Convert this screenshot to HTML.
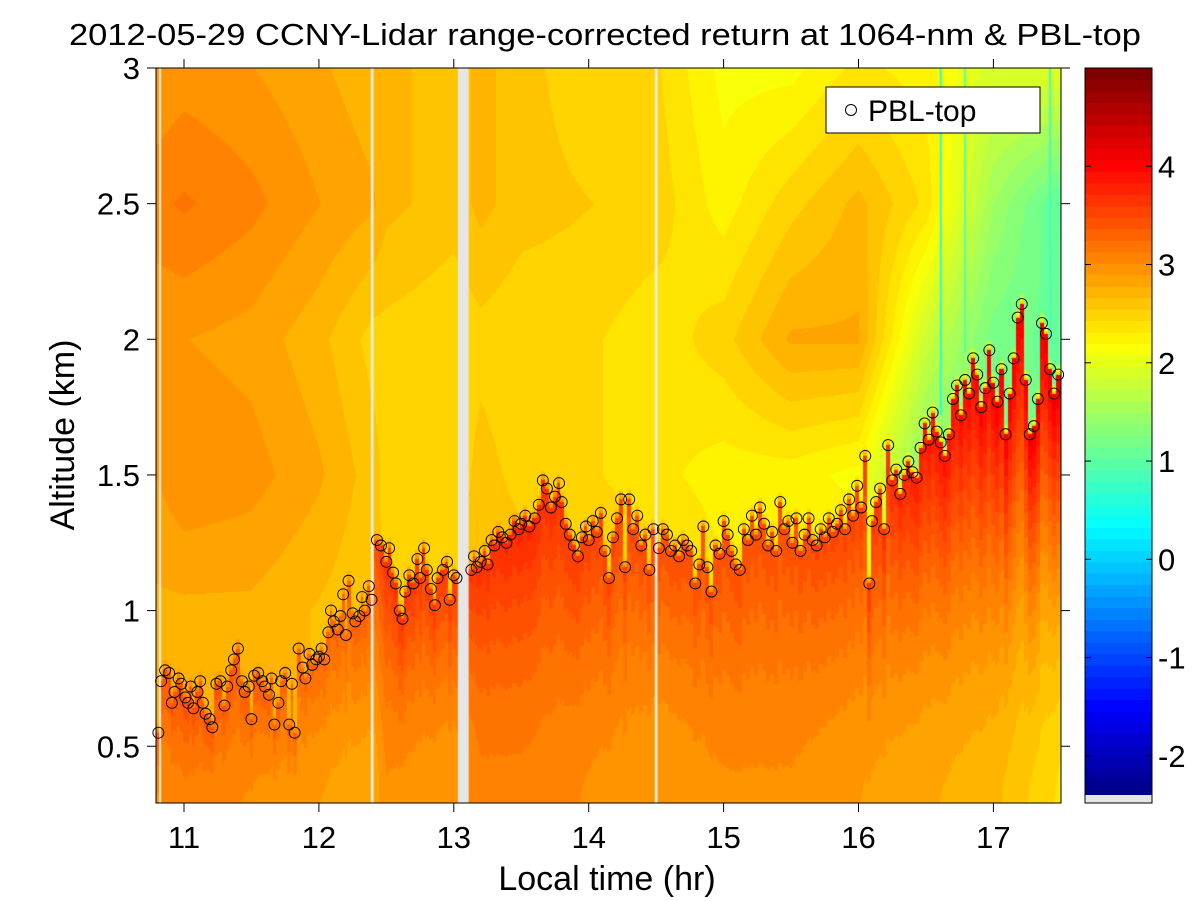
<!DOCTYPE html>
<html><head><meta charset="utf-8"><style>
html,body{margin:0;padding:0;background:#fff;}
#wrap{position:relative;width:1200px;height:901px;overflow:hidden;font-family:"Liberation Sans",Arial,sans-serif;}
#heat{position:absolute;left:156px;top:68px;}
#svg{position:absolute;left:0;top:0;}
</style></head><body>
<div id="wrap">
<canvas id="heat" width="905" height="735"></canvas>
<svg id="svg" width="1200" height="901"></svg>
</div>
<script>
// ---- data ----
const colTimes = [10.8,11,11.5,12,12.4,12.5,13,13.2,13.5,14,14.5,15,15.5,16,16.5,17,17.5];
const botVal   = [3.0,3.1,3.0,2.9,2.8,3.0,2.9,3.1,3.1,3.0,2.9,3.0,3.0,2.9,2.8,2.7,2.4];
const topVal   = [3.4,3.5,3.4,3.3,3.4,3.7,3.6,3.7,3.8,3.6,3.5,3.5,3.5,3.6,3.9,4.1,4.2];
const aboveAlts = [1.0,1.5,2.0,2.5,3.0];
const above10 = [2.75,2.75,2.75,2.65,2.55,2.55,2.55,2.65,2.65,2.55,2.55,2.35,2.45,2.35,2.0,1.8,1.7];
const above15 = [2.9,3.0,2.95,2.8,2.6,2.5,2.45,2.6,2.5,2.45,2.35,2.25,2.25,2.15,1.3,1.1,1.2];
const above20 = [2.9,2.9,2.85,2.7,2.5,2.5,2.45,2.5,2.45,2.45,2.35,2.5,2.8,2.8,1.8,1.2,1.1];
const above25 = [3.1,3.15,3.05,2.9,2.8,2.7,2.6,2.7,2.6,2.55,2.5,2.25,2.5,2.7,2.4,1.5,1.0];
const above30 = [2.9,2.95,2.9,2.8,2.7,2.7,2.6,2.7,2.6,2.45,2.45,2.15,2.15,2.35,2.25,1.9,2.0];
const gapStart = [10.815,12.385,13.03,14.49];
const gapEnd   = [10.83,12.405,13.11,14.51];
const streakTimes = [16.61,16.79,17.42];
const streakVals  = [0.6,1.0,0.9];
const pblT = [10.81,10.83,10.86,10.89,10.91,10.93,10.96,10.98,11.01,11.03,11.05,11.07,11.1,11.12,11.14,11.16,11.19,11.21,11.24,11.27,11.3,11.32,11.35,11.37,11.4,11.43,11.45,11.48,11.5,11.52,11.55,11.58,11.6,11.63,11.65,11.67,11.7,11.72,11.75,11.78,11.8,11.82,11.85,11.88,11.9,11.93,11.95,11.98,12.0,12.02,12.04,12.07,12.09,12.11,12.14,12.16,12.18,12.2,12.22,12.25,12.27,12.3,12.32,12.34,12.37,12.39,12.43,12.46,12.5,12.52,12.55,12.57,12.6,12.62,12.64,12.67,12.7,12.73,12.75,12.78,12.8,12.83,12.86,12.88,12.92,12.95,12.97,13.0,13.02,13.13,13.15,13.17,13.2,13.23,13.25,13.28,13.3,13.33,13.36,13.39,13.42,13.45,13.48,13.5,13.53,13.56,13.6,13.63,13.66,13.69,13.72,13.75,13.78,13.8,13.83,13.86,13.89,13.92,13.95,13.98,14.0,14.03,14.06,14.09,14.12,14.15,14.18,14.21,14.24,14.27,14.3,14.33,14.36,14.39,14.42,14.45,14.48,14.52,14.55,14.58,14.61,14.64,14.67,14.7,14.73,14.76,14.79,14.82,14.85,14.88,14.91,14.94,14.97,15.0,15.03,15.06,15.09,15.12,15.15,15.18,15.21,15.24,15.27,15.3,15.33,15.36,15.39,15.42,15.45,15.48,15.51,15.54,15.57,15.6,15.63,15.66,15.69,15.72,15.75,15.78,15.81,15.84,15.87,15.9,15.93,15.96,15.99,16.02,16.05,16.08,16.1,16.13,16.16,16.19,16.22,16.25,16.28,16.31,16.34,16.37,16.4,16.43,16.46,16.49,16.52,16.55,16.58,16.61,16.64,16.67,16.7,16.73,16.76,16.79,16.82,16.85,16.88,16.91,16.94,16.97,17.0,17.03,17.06,17.09,17.12,17.15,17.18,17.21,17.24,17.27,17.3,17.33,17.36,17.39,17.42,17.45,17.48];
const pblA = [0.55,0.74,0.78,0.77,0.66,0.70,0.75,0.73,0.68,0.66,0.72,0.64,0.70,0.74,0.66,0.62,0.60,0.57,0.73,0.74,0.65,0.72,0.78,0.82,0.86,0.74,0.70,0.72,0.60,0.76,0.77,0.74,0.72,0.69,0.75,0.58,0.66,0.74,0.77,0.58,0.73,0.55,0.86,0.79,0.75,0.84,0.80,0.82,0.83,0.86,0.82,0.92,1.0,0.96,0.93,0.98,1.06,0.91,1.11,0.99,0.96,0.98,1.05,1.0,1.09,1.04,1.26,1.24,1.18,1.23,1.14,1.10,1.0,0.97,1.07,1.13,1.10,1.19,1.12,1.23,1.15,1.08,1.02,1.12,1.15,1.18,1.04,1.13,1.12,1.15,1.20,1.16,1.18,1.22,1.17,1.26,1.24,1.29,1.27,1.25,1.28,1.33,1.30,1.32,1.35,1.31,1.34,1.39,1.48,1.45,1.38,1.42,1.47,1.40,1.32,1.28,1.24,1.20,1.27,1.31,1.26,1.33,1.29,1.36,1.22,1.12,1.27,1.34,1.41,1.16,1.41,1.30,1.35,1.24,1.28,1.15,1.30,1.23,1.30,1.28,1.22,1.24,1.20,1.26,1.24,1.22,1.10,1.17,1.31,1.16,1.07,1.24,1.21,1.33,1.28,1.22,1.17,1.15,1.30,1.26,1.35,1.28,1.38,1.32,1.24,1.29,1.22,1.40,1.30,1.33,1.25,1.34,1.22,1.28,1.34,1.26,1.24,1.30,1.27,1.34,1.29,1.32,1.37,1.30,1.41,1.35,1.46,1.38,1.57,1.10,1.33,1.40,1.45,1.30,1.61,1.48,1.52,1.43,1.50,1.55,1.51,1.49,1.60,1.69,1.63,1.73,1.66,1.62,1.57,1.65,1.78,1.83,1.72,1.85,1.80,1.93,1.87,1.75,1.82,1.96,1.84,1.77,1.89,1.65,1.80,1.93,2.08,2.13,1.85,1.65,1.68,1.78,2.06,2.02,1.89,1.80,1.87];
const xTicks = [11,12,13,14,15,16,17];
const yTicks = [0.5,1,1.5,2,2.5,3];
const yTickLabels = ['0.5','1','1.5','2','2.5','3'];
const cTicks = [-2,-1,0,1,2,3,4];

// ---- scales ----
const PX0=156, PX1=1061, PY0=68, PY1=803;
const xS = t => 184 + (t-11)*134.9;
const yS = a => 68 + (3-a)*271.3;
const tFromX = x => 11 + (x-184)/134.9;
const aFromY = y => 3 - (y-68)/271.3;
const CMIN=-2.48, CMAX=5.0;
const cbY = v => 68 + (CMAX-v)*(735/(CMAX-CMIN));
function jet(v){
  let f=(v-CMIN)/(CMAX-CMIN); f=Math.max(0,Math.min(1,f));
  f=Math.floor(f*63.999)/63;
  const c=x=>Math.max(0,Math.min(1,x));
  return [c(1.5-Math.abs(4*f-3))*255|0, c(1.5-Math.abs(4*f-2))*255|0, c(1.5-Math.abs(4*f-1))*255|0];
}
function interpCol(arr,t){
  if(t<=colTimes[0]) return arr[0];
  for(let i=0;i<colTimes.length-1;i++){
    if(t<=colTimes[i+1]){const u=(t-colTimes[i])/(colTimes[i+1]-colTimes[i]);return arr[i]*(1-u)+arr[i+1]*u;}
  }
  return arr[arr.length-1];
}
function pblAt(t){
  let best=0,bd=1e9;
  for(let i=0;i<pblT.length;i++){const d=Math.abs(pblT[i]-t);if(d<bd){bd=d;best=i;}}
  return pblA[best];
}
// ---- heatmap ----
const cv=document.getElementById('heat'), ctx=cv.getContext('2d');
const W=cv.width,H=cv.height, img=ctx.createImageData(W,H);
const aboveRows=[above10,above15,above20,above25,above30];
for(let px=0;px<W;px++){
  const t=tFromX(PX0+px+0.5);
  const pbl=pblAt(t), bv=interpCol(botVal,t), tv=interpCol(topVal,t);
  const ab=aboveRows.map(r=>interpCol(r,t));
  for(let py=0;py<H;py++){
    const a=aFromY(PY0+py+0.5);
    let v;
    if(a<pbl){ const u=Math.max(0,(a-0.29)/(pbl-0.29)); v=bv+(tv-bv)*Math.pow(u,1.8); }
    else{
      const aa=Math.max(1.0,Math.min(3.0,a)); let k=Math.min(3,Math.floor((aa-1.0)/0.5));
      const u=(aa-aboveAlts[k])/0.5; v=ab[k]*(1-u)+ab[k+1]*u;
      const d=a-pbl; if(d<0.04){ v = v + (tv-v)*(1-d/0.04)*0.5; }
    }
    const c=jet(v), o=(py*W+px)*4;
    img.data[o]=c[0];img.data[o+1]=c[1];img.data[o+2]=c[2];img.data[o+3]=255;
  }
}
ctx.putImageData(img,0,0);
for(let i=0;i<streakTimes.length;i++){
  const c=jet(streakVals[i]);ctx.fillStyle=`rgb(${c[0]},${c[1]},${c[2]})`;
  const sx=xS(streakTimes[i])-PX0, sb=yS(pblAt(streakTimes[i])+0.1)-PY0;
  ctx.fillRect(sx-1,0,2,sb);
}
for(let i=0;i<gapStart.length;i++){
  const w=gapEnd[i]-gapStart[i];
  ctx.fillStyle = w>0.05 ? '#e6e6e6' : '#f4efe6';
  ctx.fillRect(xS(gapStart[i])-PX0,0,Math.max(2,(gapEnd[i]-gapStart[i])*134.9),H);
}
// ---- SVG ----
const svg=document.getElementById('svg'), NS='http://www.w3.org/2000/svg';
function el(tag,attrs,parent){const e=document.createElementNS(NS,tag);for(const k in attrs)e.setAttribute(k,attrs[k]);(parent||svg).appendChild(e);return e;}
const fr=el('rect',{x:PX0,y:PY0,width:PX1-PX0,height:PY1-PY0,fill:'none',stroke:'#000','stroke-width':1});


xTicks.forEach(t=>{
  const x=xS(t);
  const l=el('line',{x1:x,y1:PY1,x2:x,y2:PY1+9,stroke:'#000'});
  
  
  el('line',{x1:x,y1:PY0,x2:x,y2:PY0-9,stroke:'#000'});
  const tx=el('text',{x:x,y:PY1+45,'font-size':31,'text-anchor':'middle'});tx.textContent=t;
  
  
});
yTicks.forEach((a,i)=>{
  const y=yS(a);
  const l=el('line',{x1:PX0,y1:y,x2:PX0-9,y2:y,stroke:'#000'});
  
  
  el('line',{x1:PX1,y1:y,x2:PX1+9,y2:y,stroke:'#000'});
  const tx=el('text',{x:PX0-16,y:y+11,'font-size':31,'text-anchor':'end'});tx.textContent=yTickLabels[i];
  
  
});
const g=el('g',{});


for(let i=0;i<pblT.length;i++){
  const c=el('circle',{cx:xS(pblT[i]),cy:yS(pblA[i]),r:5.5,fill:'none',stroke:'#000','stroke-width':0.9},g);
  
  
}
const cb=el('g',{});


for(let k=0;k<64;k++){
  const v0=CMIN+(CMAX-CMIN)*k/64, v1=CMIN+(CMAX-CMIN)*(k+1)/64;
  const c=jet((v0+v1)/2);
  el('rect',{x:1085,y:cbY(v1),width:67,height:cbY(v0)-cbY(v1)+0.5,fill:`rgb(${c[0]},${c[1]},${c[2]})`},cb);
}
el('rect',{x:1085,y:795,width:67,height:8,fill:'#e6e6e6'},cb);
el('rect',{x:1085,y:68,width:67,height:735,fill:'none',stroke:'#000'},cb);
cTicks.forEach(v=>{
  const y=cbY(v);
  el('line',{x1:1152,y1:y,x2:1146,y2:y,stroke:'#000'},cb);
  el('line',{x1:1085,y1:y,x2:1091,y2:y,stroke:'#000'},cb);
  const tx=el('text',{x:1158,y:y+11,'font-size':31},cb);tx.textContent=v;
  
  
});
const lg=el('g',{});


el('rect',{x:826,y:87,width:214,height:46,fill:'#fff',stroke:'#000'},lg);
el('circle',{cx:851,cy:110,r:5.5,fill:'none',stroke:'#000'},lg);
const lt=el('text',{x:868,y:121,'font-size':30},lg);lt.textContent='PBL-top';


const ti=el('text',{x:605,y:45,'font-size':31,'text-anchor':'middle',textLength:1072,lengthAdjust:'spacingAndGlyphs'});ti.textContent='2012-05-29 CCNY-Lidar range-corrected return at 1064-nm & PBL-top';


const xt=el('text',{x:607,y:890,'font-size':34,'text-anchor':'middle'});xt.textContent='Local time (hr)';


const yt=el('text',{x:0,y:0,'font-size':34,'text-anchor':'middle',transform:'translate(74,435) rotate(-90)'});yt.textContent='Altitude (km)';


</script>
</body></html>
